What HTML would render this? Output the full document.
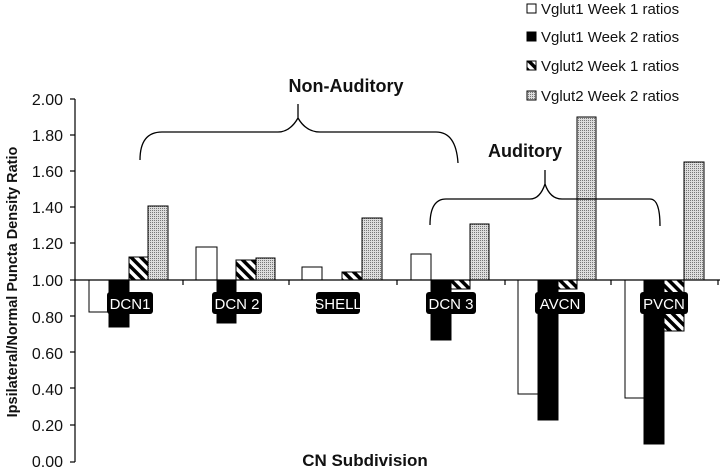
<!DOCTYPE html>
<html><head><style>body{margin:0;background:#fff}svg{display:block}</style></head><body>
<svg width="720" height="469" xmlns="http://www.w3.org/2000/svg" font-family="Liberation Sans, Arial, sans-serif">
<defs>
<pattern id="hatch" width="7" height="7" patternUnits="userSpaceOnUse" patternTransform="rotate(-45)"><rect width="7" height="7" fill="#fff"/><rect width="3.5" height="7" fill="#000"/></pattern>
<pattern id="dots" width="2" height="2" patternUnits="userSpaceOnUse"><rect width="2" height="2" fill="#ddd"/><rect width="1" height="1" fill="#777"/></pattern>
</defs>
<g font-size="16" text-anchor="end" fill="#111">
<text x="63" y="105">2.00</text><text x="63" y="141">1.80</text><text x="63" y="177">1.60</text><text x="63" y="213">1.40</text><text x="63" y="249">1.20</text><text x="63" y="286">1.00</text><text x="63" y="323">0.80</text><text x="63" y="359">0.60</text><text x="63" y="395">0.40</text><text x="63" y="431">0.20</text><text x="63" y="467">0.00</text>
</g>
<g stroke="#000" stroke-width="1.2">
<line x1="75" y1="99" x2="75" y2="462"/>
<line x1="70" y1="99" x2="75" y2="99"/><line x1="70" y1="135" x2="75" y2="135"/><line x1="70" y1="171" x2="75" y2="171"/><line x1="70" y1="207" x2="75" y2="207"/><line x1="70" y1="243" x2="75" y2="243"/><line x1="70" y1="280" x2="75" y2="280"/><line x1="70" y1="316" x2="75" y2="316"/><line x1="70" y1="352" x2="75" y2="352"/><line x1="70" y1="388" x2="75" y2="388"/><line x1="70" y1="425" x2="75" y2="425"/><line x1="70" y1="462" x2="75" y2="462"/>
</g>
<g stroke="#000" stroke-width="1">
<rect x="89" y="280" width="20" height="32" fill="#fff"/>
<rect x="109" y="280" width="20" height="47" fill="#000"/>
<rect x="129" y="257" width="19" height="23" fill="url(#hatch)"/>
<rect x="148" y="206" width="20" height="74" fill="url(#dots)"/>
<rect x="196" y="247" width="21" height="33" fill="#fff"/>
<rect x="217" y="280" width="19" height="43" fill="#000"/>
<rect x="236" y="260" width="20" height="20" fill="url(#hatch)"/>
<rect x="256" y="258" width="19" height="22" fill="url(#dots)"/>
<rect x="302" y="267" width="20" height="13" fill="#fff"/>
<rect x="342" y="272" width="20" height="8" fill="url(#hatch)"/>
<rect x="362" y="218" width="20" height="62" fill="url(#dots)"/>
<rect x="411" y="254" width="20" height="26" fill="#fff"/>
<rect x="431" y="280" width="20" height="60" fill="#000"/>
<rect x="451" y="280" width="19" height="9" fill="url(#hatch)"/>
<rect x="470" y="224" width="19" height="56" fill="url(#dots)"/>
<rect x="518" y="280" width="20" height="114" fill="#fff"/>
<rect x="538" y="280" width="20" height="140" fill="#000"/>
<rect x="558" y="280" width="19" height="9" fill="url(#hatch)"/>
<rect x="577" y="117" width="19" height="163" fill="url(#dots)"/>
<rect x="625" y="280" width="19" height="118" fill="#fff"/>
<rect x="644" y="280" width="20" height="164" fill="#000"/>
<rect x="664" y="280" width="20" height="51" fill="url(#hatch)"/>
<rect x="684" y="162" width="20" height="118" fill="url(#dots)"/>
</g>
<g stroke="#000" stroke-width="1.2">
<line x1="75" y1="280" x2="720" y2="280"/>
<line x1="183" y1="280" x2="183" y2="285"/><line x1="289" y1="280" x2="289" y2="285"/><line x1="397" y1="280" x2="397" y2="285"/><line x1="505" y1="280" x2="505" y2="285"/><line x1="611" y1="280" x2="611" y2="285"/><line x1="718" y1="280" x2="718" y2="285"/>
</g>
<g fill="#000">
<rect x="107" y="292" width="46" height="22" rx="3"/>
<rect x="212" y="292" width="50" height="22" rx="3"/>
<rect x="316" y="292" width="44" height="22" rx="3"/>
<rect x="426" y="292" width="50" height="22" rx="3"/>
<rect x="535" y="292" width="50" height="22" rx="3"/>
<rect x="640" y="292" width="48" height="22" rx="3"/>
</g>
<g fill="#fff" font-size="15" text-anchor="middle">
<text x="130" y="309">DCN1</text><text x="237" y="309">DCN 2</text><text x="338" y="309">SHELL</text><text x="451" y="309">DCN 3</text><text x="560" y="309">AVCN</text><text x="664" y="309">PVCN</text>
</g>
<g fill="none" stroke="#000" stroke-width="1.3">
<path d="M140 160 Q140 132 162 132 L278 132 Q290 132 298 118 L298 104 M298 118 Q306 132 320 132 L436 132 Q456 132 458 163"/>
<path d="M430 225 Q430 199 446 199 L530 199 Q540 199 545 184 L545 170 M545 184 Q550 199 562 199 L650 199 Q660 199 660 226"/>
</g>
<g font-weight="bold" fill="#111">
<text x="346" y="92" font-size="18" text-anchor="middle">Non-Auditory</text>
<text x="525" y="157" font-size="18" text-anchor="middle">Auditory</text>
<text x="365" y="466" font-size="17" text-anchor="middle">CN Subdivision</text>
<text transform="translate(17,282) rotate(-90)" font-size="14.5" text-anchor="middle">Ipsilateral/Normal Puncta Density Ratio</text>
</g>
<g stroke="#000" stroke-width="1">
<rect x="527" y="4" width="9" height="9" fill="#fff"/>
<rect x="527" y="32" width="9" height="9" fill="#000"/>
<rect x="527" y="61" width="9" height="9" fill="url(#hatch)"/>
<rect x="527" y="91" width="9" height="9" fill="url(#dots)"/>
</g>
<g font-size="15" fill="#111">
<text x="541" y="14">Vglut1 Week 1 ratios</text>
<text x="541" y="42">Vglut1 Week 2 ratios</text>
<text x="541" y="71">Vglut2 Week 1 ratios</text>
<text x="541" y="101">Vglut2 Week 2 ratios</text>
</g>
</svg>
</body></html>
